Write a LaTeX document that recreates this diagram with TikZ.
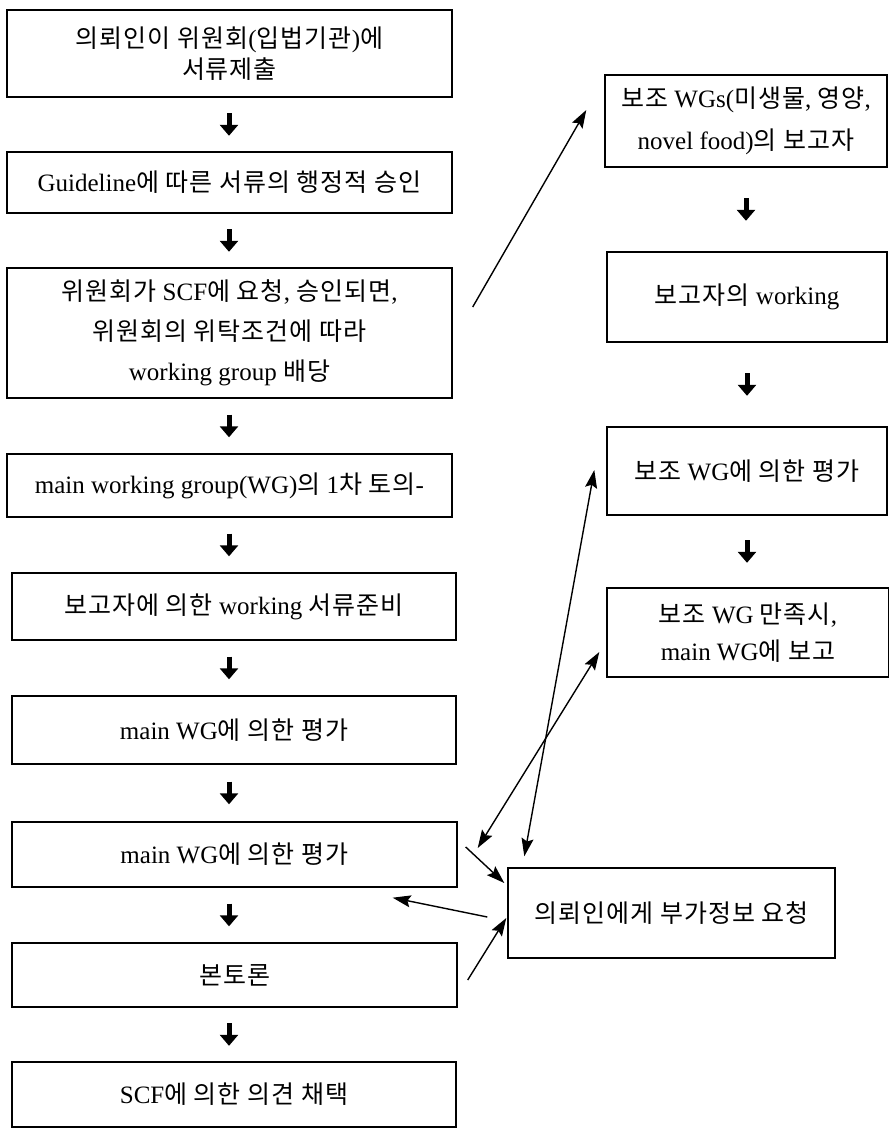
\documentclass[tikz,border=0pt]{standalone}
\usepackage{fontspec}
\setmainfont{Liberation Serif}
\newfontfamily\kr[LetterSpace=4,Scale=1.0]{Noto Sans CJK KR}
\newcommand\K[1]{{\kr #1}}
\usetikzlibrary{arrows.meta,calc}
\begin{document}
\begin{tikzpicture}[x=1pt,y=-1pt,
  box/.style={draw,line width=1.4pt,inner sep=0pt,align=center,font=\fontsize{25}{36}\selectfont},
  downarr/.style={line width=5pt,-{Triangle[length=11pt,width=18pt]}},
  conn/.style={line width=1.4pt,-{Stealth[length=18pt,width=12pt,inset=3pt]}},
  dconn/.style={line width=1.4pt,{Stealth[length=18pt,width=12pt,inset=3pt]}-{Stealth[length=18pt,width=12pt,inset=3pt]}}]
\useasboundingbox (0,0) rectangle (889,1128);
% left column
\node[box,minimum width=445pt,minimum height=87pt,font=\fontsize{25}{31}\selectfont] (b1) at (229.5,53.5)
  {\K{의뢰인이 위원회}(\K{입법기관})\K{에}\\\K{서류제출}};
\node[box,minimum width=445pt,minimum height=61pt] (b2) at (229.5,182.5)
  {Guideline\K{에 따른 서류의 행정적 승인}};
\node[box,minimum width=445pt,minimum height=130pt,font=\fontsize{25}{40}\selectfont] (b3) at (229.5,333)
  {\K{위원회가} SCF\K{에 요청}, \K{승인되면},\\\K{위원회의 위탁조건에 따라}\\working group \K{배당}};
\node[box,minimum width=445pt,minimum height=63pt] (b4) at (229.5,485.5)
  {main working group(WG)\K{의} 1\K{차 토의}-};
\node[box,minimum width=444pt,minimum height=67pt] (b5) at (234,606.5)
  {\K{보고자에 의한} working \K{서류준비}};
\node[box,minimum width=444pt,minimum height=68pt] (b6) at (234,730)
  {main WG\K{에 의한 평가}};
\node[box,minimum width=445pt,minimum height=65pt] (b7) at (234.5,854.5)
  {main WG\K{에 의한 평가}};
\node[box,minimum width=445pt,minimum height=64pt] (b8) at (234.5,975)
  {\K{본토론}};
\node[box,minimum width=444pt,minimum height=65pt] (b9) at (234,1094.5)
  {SCF\K{에 의한 의견 채택}};
% right column
\node[box,minimum width=282pt,minimum height=92pt,font=\fontsize{25}{42}\selectfont] (A) at (746,121)
  {\K{보조} WGs(\K{미생물}, \K{영양},\\novel food)\K{의 보고자}};
\node[box,minimum width=280pt,minimum height=90pt] (B) at (747,297)
  {\K{보고자의} working};
\node[box,minimum width=280pt,minimum height=88pt] (C) at (747,471)
  {\K{보조} WG\K{에 의한 평가}};
\node[box,minimum width=282pt,minimum height=89pt,font=\fontsize{25}{37}\selectfont] (D) at (748,632.5)
  {\K{보조} WG \K{만족시},\\main WG\K{에 보고}};
\node[box,minimum width=327pt,minimum height=90pt] (E) at (671.5,913)
  {\K{의뢰인에게 부가정보 요청}};
% down arrows
\coordinate (ax) at (229,0);
\draw[downarr,shorten <=15.5pt,shorten >=15.5pt] (ax |- b1.south) -- (ax |- b2.north);
\draw[downarr,shorten <=15.5pt,shorten >=15.5pt] (ax |- b2.south) -- (ax |- b3.north);
\draw[downarr,shorten <=16pt,shorten >=16pt] (ax |- b3.south) -- (ax |- b4.north);
\draw[downarr,shorten <=16pt,shorten >=16pt] (ax |- b4.south) -- (ax |- b5.north);
\draw[downarr,shorten <=16pt,shorten >=16pt] (ax |- b5.south) -- (ax |- b6.north);
\draw[downarr,shorten <=17pt,shorten >=17pt] (ax |- b6.south) -- (ax |- b7.north);
\draw[downarr,shorten <=16pt,shorten >=16pt] (ax |- b7.south) -- (ax |- b8.north);
\draw[downarr,shorten <=15.5pt,shorten >=15.5pt] (ax |- b8.south) -- (ax |- b9.north);
\draw[downarr,shorten <=30.5pt,shorten >=30.5pt] (A.south) -- (A.south |- B.north);
\draw[downarr,shorten <=30.5pt,shorten >=30.5pt] (B.south) -- (B.south |- C.north);
\draw[downarr,shorten <=24.5pt,shorten >=24.5pt] (C.south) -- (C.south |- D.north);
% connectors
\draw[conn] ([xshift=20pt,yshift=26pt]b3.east) -- ([xshift=-18pt,yshift=11pt]A.west);
\draw[dconn] ([xshift=20pt,yshift=6.5pt]b7.east) -- ([xshift=-7pt,yshift=-19.5pt]D.west);
\draw[dconn] ([xshift=17pt,yshift=11pt]E.north west) -- ([xshift=-12pt,yshift=1pt]C.west);
\draw[conn] ([xshift=8pt,yshift=7.5pt]b7.east) -- ([xshift=-3pt,yshift=30pt]E.west);
\draw[conn] ([xshift=-20pt,yshift=-4pt]E.west) -- ([xshift=-65pt,yshift=-10pt]b7.south east);
\draw[conn] ([xshift=10pt,yshift=-5pt]b8.east) -- ([xshift=-1pt,yshift=-5pt]E.west);
\end{tikzpicture}
\end{document}
